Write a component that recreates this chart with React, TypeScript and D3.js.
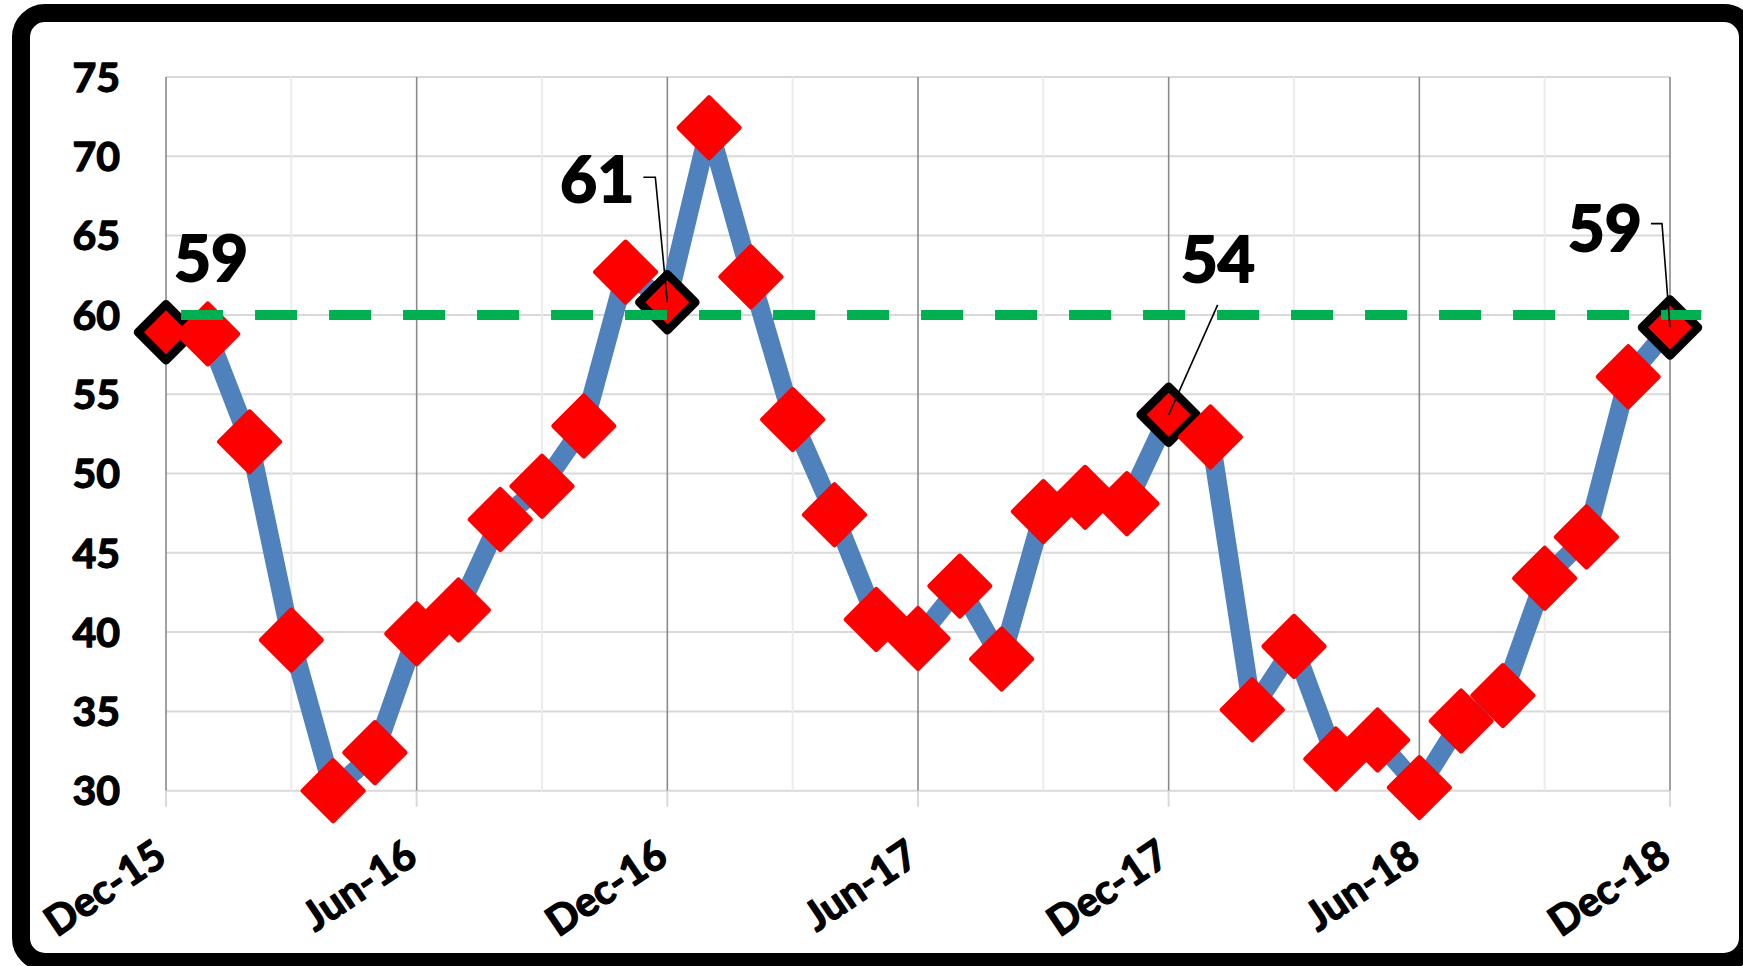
import React from "react";
import * as d3 from "d3";

// Monthly index, Dec-15 through Dec-18 (37 observations)
const tickLabels = ["Dec-15", "Jun-16", "Dec-16", "Jun-17", "Dec-17", "Jun-18", "Dec-18"];
const monthsPerLabel = 6;
const monthsPerMinorGrid = 3;

const values = [
  58.9, 58.8, 52.0, 39.5, 30.0, 32.4, 39.9, 41.4, 47.1, 49.2, 53.0, 62.7,
  60.8, 71.8, 62.4, 53.4, 47.4, 40.8, 39.6, 42.9, 38.3, 47.6, 48.5, 48.1,
  53.7, 52.3, 35.1, 39.1, 32.0, 33.2, 30.2, 34.4, 36.0, 43.4, 46.0, 56.1,
  59.2,
];

// December readings that get a callout
const highlighted = [0, 12, 24, 36];

const yTicks = [30, 35, 40, 45, 50, 55, 60, 65, 70, 75];

// Reference level drawn as a dashed line (value, month span)
const targetValue = 60;
const targetSpan = [0.36, 36.75];

const W = 1743;
const H = 966;
const FONT = "Lato, 'Open Sans', 'DejaVu Sans', sans-serif";

// Callout placement relative to the marker it labels
const calloutLayout: Record<number, { dx: number; dy: number; anchor: string; leader: [number, number][] | null }> = {
  0: { dx: 8, dy: -51, anchor: "start", leader: null },
  12: { dx: -33, dy: -100, anchor: "end", leader: [[-24, -125], [-12, -125], [0, 0]] },
  24: { dx: 12, dy: -133, anchor: "start", leader: [[49, -110], [0, 0]] },
  36: { dx: -28, dy: -77, anchor: "end", leader: [[-19, -104], [-8, -104], [0, 0]] },
};

const diamond = (r: number) => `M0,${-r}L${r},0L0,${r}L${-r},0Z`;

// heavy bold text: bold face plus a thin outline in the same colour
const heavy = (size: number, outline: number) => ({
  fontFamily: FONT,
  fontWeight: 700,
  fontSize: size,
  fill: "#000",
  stroke: "#000",
  strokeWidth: outline,
  strokeLinejoin: "round" as const,
});

export default function App() {
  const n = values.length - 1;
  const x = d3.scaleLinear().domain([0, n]).range([166, 1670]);
  const y = d3.scaleLinear().domain([30, 75]).range([790.7, 77]);

  const line = d3
    .line<number>()
    .x((_, i) => x(i))
    .y((d) => y(d));

  const minorMonths = d3.range(0, n + 1, monthsPerMinorGrid).filter((m) => m % monthsPerLabel !== 0);
  const majorMonths = d3.range(0, n + 1, monthsPerLabel);
  const fmt = d3.format(".0f");

  return (
    <svg
      width={W}
      height={H}
      style={{ position: "absolute", left: 0, top: 0, display: "block", background: "#fff" }}
    >
      {/* chart frame */}
      <rect x={21} y={13} width={1727} height={949} rx={24} ry={24} fill="#fff" stroke="#000" strokeWidth={18} />

      {/* horizontal gridlines */}
      {yTicks.map((t) => (
        <line key={"h" + t} x1={x(0)} x2={x(n)} y1={y(t)} y2={y(t)} stroke="#d9d9d9" strokeWidth={2} />
      ))}
      {/* minor vertical gridlines */}
      {minorMonths.map((m) => (
        <line key={"mv" + m} x1={x(m)} x2={x(m)} y1={y(75)} y2={y(30)} stroke="#ececec" strokeWidth={2} />
      ))}
      {/* major vertical gridlines and ticks */}
      {majorMonths.map((m) => (
        <g key={"MV" + m}>
          <line x1={x(m)} x2={x(m)} y1={y(75)} y2={y(30)} stroke="#8a8a8a" strokeWidth={1.6} />
          <line x1={x(m)} x2={x(m)} y1={y(30)} y2={y(30) + 16} stroke="#d9d9d9" strokeWidth={2} />
        </g>
      ))}

      {/* y axis labels */}
      {yTicks.map((t) => (
        <text key={"yl" + t} x={120} y={y(t)} dy="0.36em" textAnchor="end" {...heavy(41, 1.3)}>
          {t}
        </text>
      ))}

      {/* x axis labels */}
      {tickLabels.map((lab, k) => (
        <text
          key={"xl" + lab}
          transform={`translate(${x(k * monthsPerLabel) + 3},862) rotate(-34)`}
          textAnchor="end"
          {...heavy(41, 1.3)}
        >
          {lab}
        </text>
      ))}

      {/* series line */}
      <path d={line(values) || ""} fill="none" stroke="#4f81bd" strokeWidth={19} strokeLinejoin="round" />

      {/* markers */}
      {values.map((v, i) =>
        highlighted.includes(i) ? (
          <path
            key={"m" + i}
            d={diamond(28)}
            transform={`translate(${x(i)},${y(v)})`}
            fill="#ff0000"
            stroke="#000"
            strokeWidth={8.5}
            strokeLinejoin="round"
          />
        ) : (
          <path
            key={"m" + i}
            d={diamond(30)}
            transform={`translate(${x(i)},${y(v)})`}
            fill="#ff0000"
            stroke="#ff0000"
            strokeWidth={5}
            strokeLinejoin="round"
          />
        )
      )}

      {/* reference level */}
      <line
        x1={x(targetSpan[0])}
        x2={x(targetSpan[1])}
        y1={y(targetValue)}
        y2={y(targetValue)}
        stroke="#00b050"
        strokeWidth={10}
        strokeDasharray="42 32"
      />

      {/* callouts */}
      {highlighted.map((i) => {
        const c = calloutLayout[i];
        const px = x(i);
        const py = y(values[i]);
        return (
          <g key={"c" + i}>
            {c.leader && (
              <polyline
                points={c.leader.map(([lx, ly]) => `${px + lx},${py + ly}`).join(" ")}
                fill="none"
                stroke="#000"
                strokeWidth={1.6}
              />
            )}
            <text x={px + c.dx} y={py + c.dy} textAnchor={c.anchor} {...heavy(64, 2)}>
              {fmt(values[i])}
            </text>
          </g>
        );
      })}
    </svg>
  );
}
